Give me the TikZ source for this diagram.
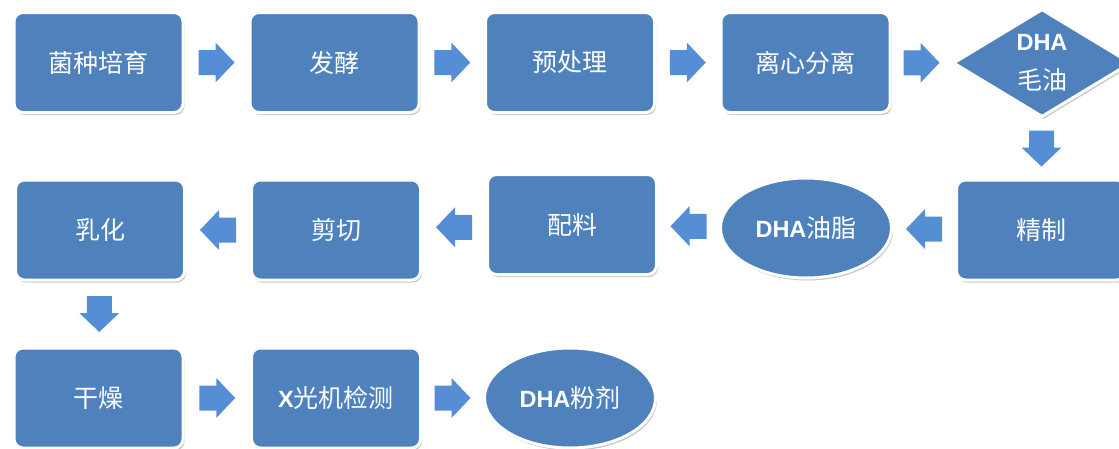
\documentclass[tikz,border=0pt]{standalone}
\usepackage{fontspec}
\setmainfont{Liberation Sans}
\newfontfamily\latin{Liberation Sans}
\newfontfamily\cjk{Noto Sans CJK SC}
\usetikzlibrary{shapes.geometric,shadows,calc}
\definecolor{boxblue}{HTML}{4F81BD}
\definecolor{arrowblue}{HTML}{558ED5}
\tikzset{
  every node/.style={text=white, font=\fontsize{25}{29}\selectfont\cjk},
  shade/.style={drop shadow={shadow xshift=1.5pt, shadow yshift=-2.5pt, fill=black, opacity=0.22}},
  stepbox/.style={rectangle, rounded corners=9pt, fill=boxblue, draw=white, line width=3pt,
    minimum width=169pt, minimum height=100pt, inner sep=0pt, shade},
  ovalbox/.style={ellipse, fill=boxblue, draw=white, line width=3pt,
    minimum width=171pt, minimum height=100pt, inner sep=0pt, shade},
  diabox/.style={diamond, fill=boxblue, draw=white, line width=3pt,
    minimum width=178pt, minimum height=103pt, inner sep=0pt, shade, align=center},
  blockarrow/.pic={\fill[arrowblue] (-18,-12.5) -- (-1,-12.5) -- (-1,-20) -- (18,0) -- (-1,20) -- (-1,12.5) -- (-18,12.5) -- cycle;},
}
\newcommand{\dha}{{\latin\fontsize{23.5}{27}\selectfont\bfseries DHA}}
\begin{document}
\begin{tikzpicture}[x=1pt,y=-1pt]
\useasboundingbox (0,0) rectangle (1119,448);
% row 1
\node[stepbox] (b1) at (98.5,62.5) {菌种培育};
\node[stepbox] (b2) at (334.5,62.5) {发酵};
\node[stepbox] (b3) at (570,62.5) {预处理};
\node[stepbox] (b4) at (805.5,62.5) {离心分离};
\node[diabox] (d1) at (1042,63) {\dha\\[10pt]毛油};
% row 2
\node[stepbox] (r1) at (1041,230) {精制};
\node[ovalbox] (o1) at (806,228) {\dha{}油脂};
\node[stepbox] (r2) at (572,224.5) {配料};
\node[stepbox] (r3) at (336,230) {剪切};
\node[stepbox] (r4) at (100,230) {乳化};
% row 3
\node[stepbox] (c1) at (98.5,398) {干燥};
\node[stepbox] (c2) at (336,398) {{\latin\fontsize{23.5}{27}\selectfont\bfseries X}光机检测};
\node[ovalbox] (o2) at (570,398) {\dha{}粉剂};
% arrows
\pic at ($(b1.east)!0.5!(b2.west)$) {blockarrow};
\pic at ($(b2.east)!0.5!(b3.west)$) {blockarrow};
\pic at ($(b3.east)!0.5!(b4.west)$) {blockarrow};
\pic at ($(b4.east)!0.5!(d1.west)$) {blockarrow};
\pic[rotate=-90] at ($(d1.south)!0.5!(r1.north)$) {blockarrow};
\pic[rotate=180] at ($(r1.west)!0.5!(o1.east)$) {blockarrow};
\pic[rotate=180] at ($(o1.west)!0.5!(r2.east)$) {blockarrow};
\pic[rotate=180] at ($(r2.west)!0.5!(r3.east)$) {blockarrow};
\pic[rotate=180] at ($(r3.west)!0.5!(r4.east)$) {blockarrow};
\pic[rotate=-90] at ($(r4.south)!0.5!(c1.north)$) {blockarrow};
\pic at ($(c1.east)!0.5!(c2.west)$) {blockarrow};
\pic at ($(c2.east)!0.5!(o2.west)$) {blockarrow};
\end{tikzpicture}
\end{document}
